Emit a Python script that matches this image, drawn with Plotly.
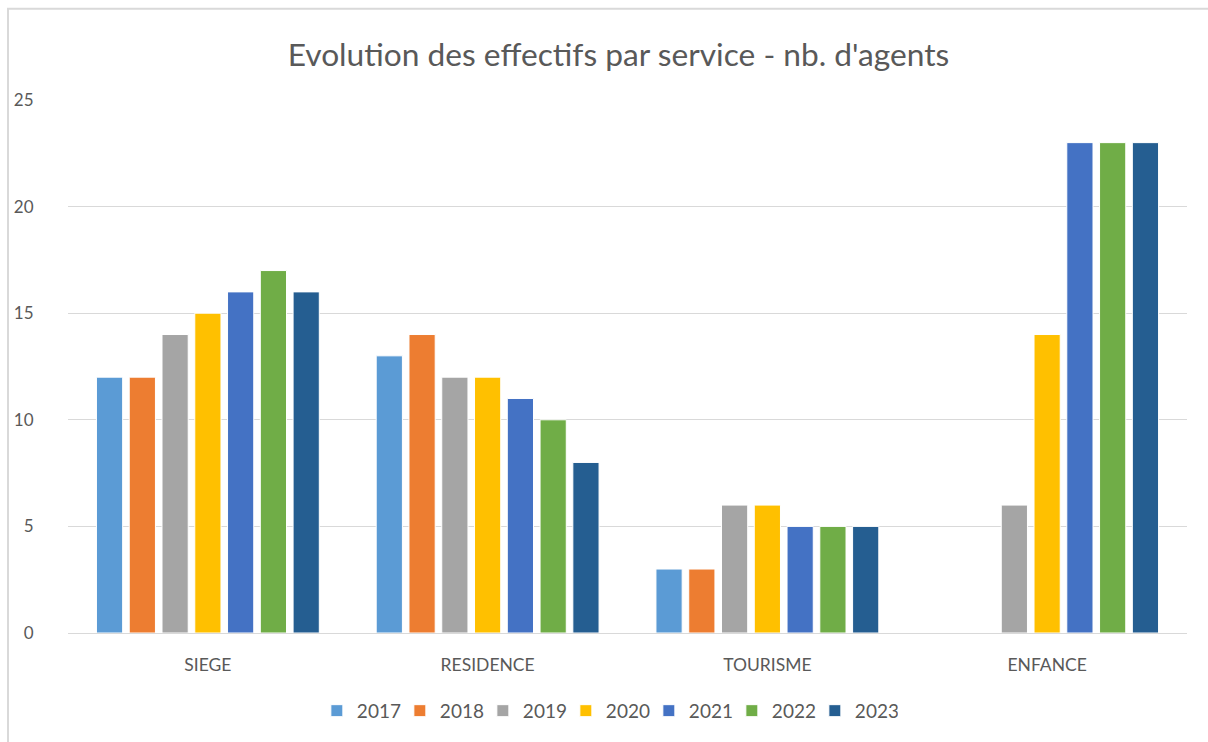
import plotly.graph_objects as go

# Effectifs par service (nb. d'agents)
services = ["SIEGE", "RESIDENCE", "TOURISME", "ENFANCE"]
annees = ["2017", "2018", "2019", "2020", "2021", "2022", "2023"]

v2017 = [12, 13, 3, None]
v2018 = [12, 14, 3, None]
v2019 = [14, 12, 6, 6]
v2020 = [15, 12, 6, 14]
v2021 = [16, 11, 5, 23]
v2022 = [17, 10, 5, 23]
v2023 = [16, 8, 5, 23]

series = [v2017, v2018, v2019, v2020, v2021, v2022, v2023]
couleurs = ["#5B9BD5", "#ED7D31", "#A5A5A5", "#FFC000", "#4472C4", "#70AD47", "#255E91"]

fig = go.Figure()
for annee, vals, col in zip(annees, series, couleurs):
    fig.add_trace(
        go.Bar(
            name=annee,
            x=services,
            y=vals,
            marker=dict(color=col, line=dict(color="white", width=1)),
        )
    )

fig.update_layout(
    width=1208,
    height=742,
    barmode="group",
    bargap=0.18,
    bargroupgap=0.2,
    paper_bgcolor="white",
    plot_bgcolor="white",
    font=dict(family="Lato, 'Open Sans', sans-serif", color="#595959", size=16),
    margin=dict(l=68, r=21, t=100, b=104),
    title=dict(
        text="Evolution des effectifs par service - nb. d'agents",
        x=0.512,
        xanchor="center",
        y=1 - 55 / 742,
        yanchor="middle",
        font=dict(size=31.7, color="#595959"),
    ),
    legend=dict(
        orientation="h",
        x=0.482,
        xanchor="center",
        y=-0.146,
        yanchor="middle",
        font=dict(size=19),
        itemwidth=30,
        entrywidth=38,
        entrywidthmode="pixels",
        traceorder="normal",
    ),
    showlegend=True,
)

fig.update_xaxes(
    automargin=False,
    showgrid=False,
    showline=True,
    linecolor="#D9D9D9",
    linewidth=1,
    ticks="outside",
    tickcolor="white",
    ticklen=16,
    tickfont=dict(size=17.5),
)
fig.update_yaxes(
    automargin=False,
    range=[0, 25],
    dtick=5,
    showgrid=True,
    gridcolor="#D9D9D9",
    gridwidth=1,
    zeroline=False,
    showline=False,
    ticks="outside",
    tickcolor="white",
    ticklen=30,
    tickfont=dict(size=17),
)

# cadre du graphique
fig.add_shape(
    type="rect",
    xref="paper",
    yref="paper",
    x0=-0.0536,
    x1=1.03,
    y0=-0.22,
    y1=1.171,
    line=dict(color="#D9D9D9", width=2),
    layer="below",
)

# la page HTML a une marge par défaut de 8px
fig.write_html(
    "out.html",
    config={"displayModeBar": False},
    post_script="document.body.style.margin='0';",
)
